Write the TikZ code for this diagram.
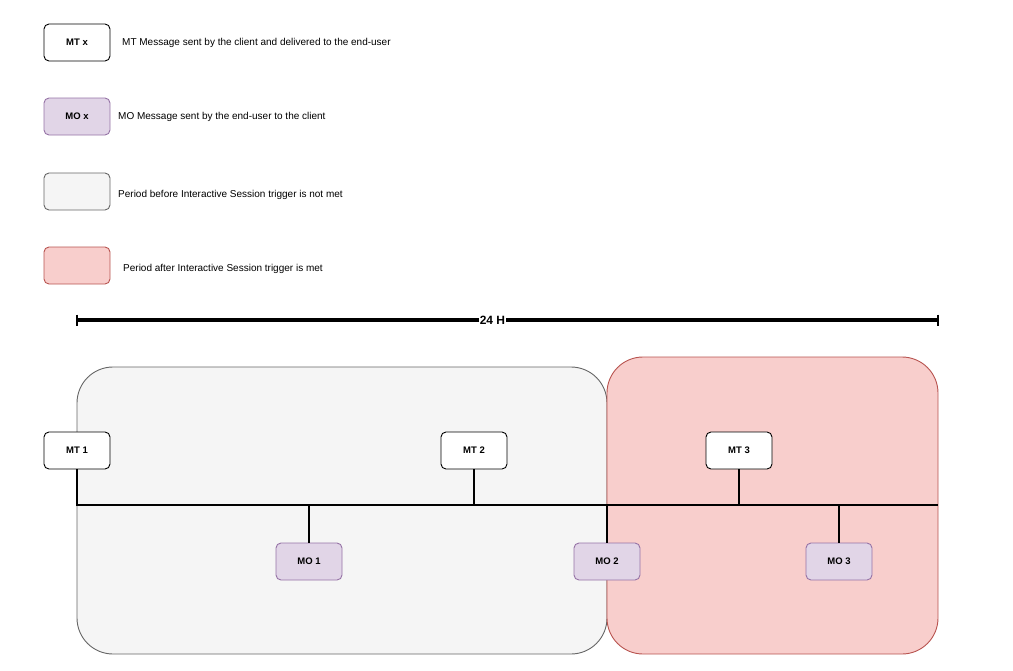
\documentclass[tikz,border=0pt]{standalone}
\usepackage{fontspec}
\setmainfont{Liberation Sans}
\usepackage{xcolor}
\usetikzlibrary{positioning,arrows.meta,calc}
\definecolor{mofill}{HTML}{E1D5E7}
\definecolor{modraw}{HTML}{9673A6}
\definecolor{prefill}{HTML}{F5F5F5}
\definecolor{predraw}{HTML}{666666}
\definecolor{postfill}{HTML}{F8CECC}
\definecolor{postdraw}{HTML}{B85450}
\tikzset{
  mtbox/.style   = {draw=black, fill=white, line width=0.9pt, rounded corners=5pt, minimum width=66pt, minimum height=37pt, inner sep=0pt, font=\fontsize{9.5}{11}\selectfont\bfseries},
  mobox/.style   = {mtbox, draw=modraw, fill=mofill},
  prebox/.style  = {mtbox, draw=predraw, fill=prefill},
  postbox/.style = {mtbox, draw=postdraw, fill=postfill},
  legend/.style  = {anchor=west, inner sep=0pt, font=\fontsize{10}{12}\selectfont},
  region/.style  = {draw, line width=0.9pt, rounded corners=36pt, inner sep=0pt},
  tick/.style    = {draw=black, line width=1.4pt},
}

\begin{document}
\begin{tikzpicture}[x=1pt, y=-1pt]
  \useasboundingbox (0,0) rectangle (1013,670);
  % legend
  \node[mtbox] (lgmt) at (77,42.5) {MT x};
  \node[legend] at (122,42.5) {MT Message sent by the client and delivered to the end-user};
  \node[mobox] (lgmo) at (77,116.5) {MO x};
  \node[legend] at (118,116.5) {MO Message sent by the end-user to the client};
  \node[prebox] (lgpre) at (77,191.5) {};
  \node[legend] at (118,195) {Period before Interactive Session trigger is not met};
  \node[postbox] (lgpost) at (77,265.5) {};
  \node[legend] at (123,269) {Period after Interactive Session trigger is met};

  % 24 hour span
  \coordinate (spanl) at (77,320);
  \coordinate (spanr) at (938,320);
  \draw[line width=3.2pt] (spanl) -- node[pos=0.4825, fill=white, inner sep=0.5pt, font=\fontsize{12}{13}\selectfont\bfseries] (span) {24 H} (spanr);
  \draw[tick] ($(spanl)+(0,-5.5)$) -- ($(spanl)+(0,5.5)$);
  \draw[tick] ($(spanr)+(0,-5.5)$) -- ($(spanr)+(0,5.5)$);

  % periods
  \node[region, draw=predraw, fill=prefill, minimum width=530pt, minimum height=287pt] (before) at (342,510.5) {};
  \node[region, draw=postdraw, fill=postfill, minimum width=331pt, minimum height=297pt] (after) at (772.5,505.5) {};

  % timeline
  \coordinate (tlend) at (938,505);
  \node[mtbox] (mt1) at (77,450.5) {MT 1};
  \node[mtbox] (mt2) at (474,450.5) {MT 2};
  \node[mtbox] (mt3) at (739,450.5) {MT 3};
  \node[mobox] (mo1) at (309,561.5) {MO 1};
  \node[mobox] (mo2) at (607,561.5) {MO 2};
  \node[mobox] (mo3) at (839,561.5) {MO 3};
  \draw[line width=1.5pt] (mt1.south) |- (tlend);
  \foreach \m in {mt2,mt3,mo1,mo2,mo3}
    \draw[line width=1.5pt] (\m) -- (\m |- tlend);
\end{tikzpicture}
\end{document}
